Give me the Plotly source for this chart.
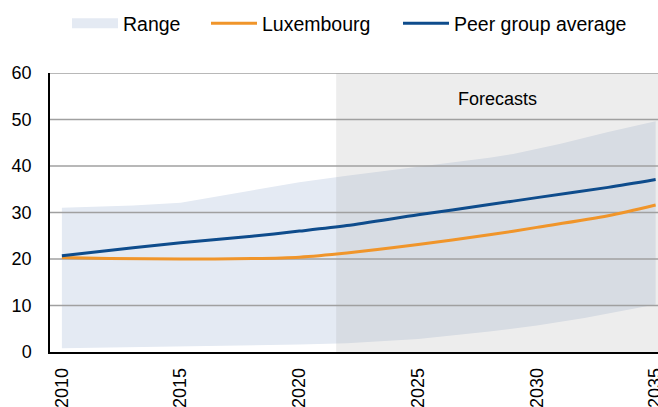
import plotly.graph_objects as go

# ---- data ----
range_years = [2010, 2013, 2015, 2017, 2020, 2022, 2025, 2028, 2029, 2031, 2033, 2035]
range_upper = [31.0, 31.5, 32.1, 33.8, 36.5, 37.9, 39.8, 41.8, 42.6, 44.8, 47.3, 49.6]
range_lower_years = [2010, 2015, 2020, 2022, 2025, 2028, 2030, 2032, 2035]
range_lower = [0.8, 1.2, 1.6, 1.9, 2.8, 4.4, 5.7, 7.3, 10.2]

lux_years = [2010, 2012, 2015, 2018, 2020, 2022, 2025, 2028, 2030, 2033, 2035]
lux_values = [20.3, 20.1, 20.0, 20.1, 20.4, 21.3, 23.1, 25.2, 26.8, 29.3, 31.6]

peer_years = [2010, 2013, 2015, 2018, 2020, 2022, 2025, 2028, 2030, 2033, 2035]
peer_values = [20.7, 22.4, 23.5, 24.9, 26.0, 27.2, 29.5, 31.7, 33.2, 35.4, 37.1]

x_ticks = [2010, 2015, 2020, 2025, 2030, 2035]
y_ticks = [0, 10, 20, 30, 40, 50, 60]
forecast_start = 2021.55
forecast_label = "Forecasts"

X_RANGE = [2009.5, 2035.1]
Y_RANGE = [0, 60]
FONT = "Liberation Sans, Arial, sans-serif"
ORANGE = "#F0952A"
BLUE = "#0E4C8C"
BAND = "#E4EAF3"
W, H = 658, 407

band_x = range_years + range_lower_years[::-1]
band_y = range_upper + range_lower[::-1]

fig = go.Figure()

fig.add_trace(go.Scatter(
    x=band_x, y=band_y, mode="lines", fill="toself",
    fillcolor=BAND, line=dict(width=0), showlegend=False,
    hoverinfo="skip"))

# forecast shading (drawn above band, below lines)
fig.add_trace(go.Scatter(
    x=[forecast_start, X_RANGE[1], X_RANGE[1], forecast_start, forecast_start],
    y=[Y_RANGE[0], Y_RANGE[0], Y_RANGE[1], Y_RANGE[1], Y_RANGE[0]],
    mode="lines", fill="toself", fillcolor="rgba(165,165,165,0.2)",
    line=dict(width=0), showlegend=False, hoverinfo="skip"))

# gridlines above the band
gx, gy = [], []
for v in y_ticks[1:]:
    gx += [X_RANGE[0], X_RANGE[1], None]
    gy += [v, v, None]
fig.add_trace(go.Scatter(x=gx, y=gy, mode="lines",
                         line=dict(color="#A0A0A0", width=1.5),
                         showlegend=False, hoverinfo="skip"))

fig.add_trace(go.Scatter(x=lux_years, y=lux_values, mode="lines",
                         line=dict(color=ORANGE, width=3, shape="spline", smoothing=0.8),
                         name="Luxembourg", legend="legend2"))
fig.add_trace(go.Scatter(x=peer_years, y=peer_values, mode="lines",
                         line=dict(color=BLUE, width=3, shape="spline", smoothing=0.8),
                         name="Peer group average", legend="legend3"))

# legend entry for the range band
fig.add_trace(go.Scatter(x=[None], y=[None], mode="lines",
                         line=dict(color=BAND, width=10),
                         name="Range", legend="legend"))

fig.add_annotation(x=(forecast_start + X_RANGE[1]) / 2, y=54.5, text=forecast_label,
                   showarrow=False, font=dict(size=18, color="#000", family=FONT))

def leg(xpix):
    return dict(orientation="h", xref="container", yref="container",
                x=xpix / W, y=1 - 4 / H, xanchor="left", yanchor="top",
                font=dict(size=19.5, family=FONT, color="#000"),
                itemwidth=46, bgcolor="rgba(0,0,0,0)")

fig.update_layout(
    width=W, height=H,
    margin=dict(l=50, r=0, t=73, b=55),
    paper_bgcolor="white", plot_bgcolor="white",
    font=dict(family=FONT, size=18, color="#000"),
    legend=leg(67), legend2=leg(206), legend3=leg(398),
    xaxis=dict(range=X_RANGE, tickvals=x_ticks, tickangle=-90, showgrid=False,
               showline=True, linecolor="#000", linewidth=1.5, ticks="",
               zeroline=False, tickfont=dict(size=18), ticklabelstandoff=7,
               ticklabeloverflow="allow", automargin=False),
    yaxis=dict(range=Y_RANGE, tickvals=y_ticks, showgrid=False,
               showline=True, linecolor="#000", linewidth=1.5, ticks="",
               zeroline=False, tickfont=dict(size=18), ticklabelstandoff=13,
               automargin=False),
    showlegend=True,
)

fig.write_html("out.html", config={"displayModeBar": False},
               post_script="document.body.style.margin='0';")
